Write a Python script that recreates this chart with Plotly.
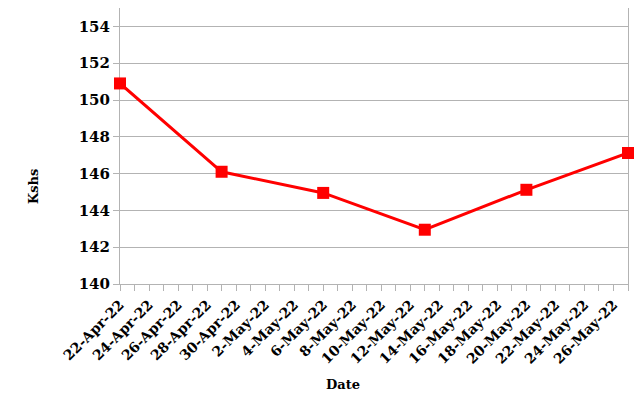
import plotly.graph_objects as go
from datetime import date, timedelta

dates = ["2022-04-22", "2022-04-29", "2022-05-06", "2022-05-13", "2022-05-20", "2022-05-27"]
values = [150.9, 146.1, 144.95, 142.95, 145.12, 147.12]

start = date(2022, 4, 22)
tick_days = [start + timedelta(days=2 * i) for i in range(18)]
tick_vals = [d.isoformat() for d in tick_days]
tick_text = [f"{d.day}-{d.strftime('%b')}-22" for d in tick_days]

FONT = "DejaVu Serif"

fig = go.Figure()
fig.add_trace(go.Scatter(
    x=dates, y=values, mode="lines+markers",
    line=dict(color="#ff0000", width=3),
    marker=dict(symbol="square", size=12, color="#ff0000"),
    cliponaxis=False,
    showlegend=False,
))

fig.update_layout(
    width=642, height=420,
    margin=dict(l=120, r=14, t=8, b=136, autoexpand=False),
    plot_bgcolor="white", paper_bgcolor="white",
    font=dict(family=FONT, size=14, color="black"),
    xaxis=dict(
        type="date",
        range=["2022-04-22", "2022-05-27"],
        tickvals=tick_vals, ticktext=tick_text,
        tickangle=-45,
        tickfont=dict(family=FONT, size=14, color="black", weight="bold"),
        showgrid=False, showline=True, linecolor="#b3b3b3", linewidth=1,
        ticks="outside", ticklen=6, tickcolor="#b3b3b3",
        minor=dict(dtick=86400000, ticks="outside", ticklen=6, tickcolor="#b3b3b3", showgrid=False),
        zeroline=False, layer="below traces",
    ),
    yaxis=dict(
        range=[140, 155], tick0=140, dtick=2,
        tickfont=dict(family=FONT, size=15, color="black", weight="bold"),
        showgrid=True, gridcolor="#b3b3b3", gridwidth=1,
        showline=True, linecolor="#b3b3b3", linewidth=1, mirror=True,
        ticks="outside", ticklen=6, tickcolor="#b3b3b3",
        zeroline=False, layer="below traces",
    ),
    annotations=[
        dict(text="Kshs", x=33, y=187, xref="paper", yref="paper", showarrow=False,
             xanchor="center", yanchor="middle",
             textangle=-90, font=dict(family=FONT, size=13, color="black", weight="bold")),
        dict(text="Date", x=343, y=384, xref="paper", yref="paper", showarrow=False,
             xanchor="center", yanchor="middle",
             font=dict(family=FONT, size=13, color="black", weight="bold")),
    ],
)

pw = 642 - 120 - 14
ph = 420 - 8 - 136
for a in fig.layout.annotations:
    a.x = (a.x - 120) / pw
    a.y = (420 - 136 - a.y) / ph

fig.write_html("out.html", config={"displayModeBar": False},
               post_script="document.body.style.margin='0';")
